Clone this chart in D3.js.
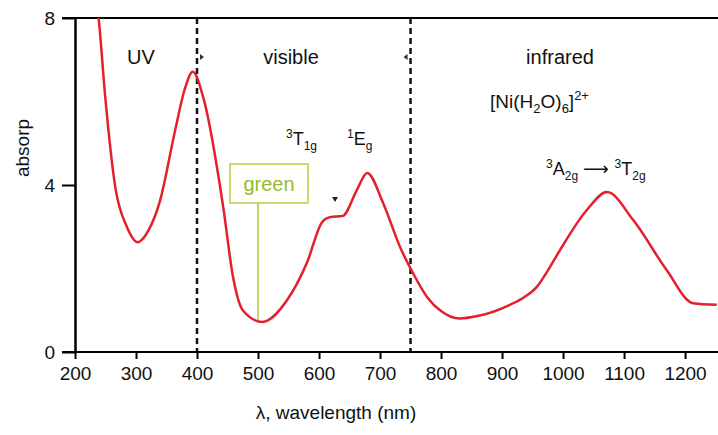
<!DOCTYPE html>
<html>
<head>
<meta charset="utf-8">
<script src="https://cdn.jsdelivr.net/npm/d3@7"></script>
<style>
  body { margin: 0; background: #fff; }
  svg { display: block; font-family: "Liberation Sans", Arial, sans-serif; }
</style>
</head>
<body>
<svg id="chart" width="718" height="435"></svg>
<script>
// spectrum of [Ni(H2O)6]2+
var wavelength = [235, 239, 249, 266, 285, 303, 320, 339, 364, 380, 393, 410, 443, 459, 475, 507, 548, 580, 605, 618, 639, 662, 679, 705, 733, 754, 777, 800, 830, 860, 913, 935, 957, 975, 995, 1039, 1072, 1115, 1170, 1213, 1252];
var absorbance = [8.4, 7.95, 6.2, 3.95, 3.0, 2.63, 2.9, 3.6, 5.3, 6.3, 6.71, 6.11, 3.47, 1.8, 1.0, 0.72, 1.25, 2.13, 3.11, 3.23, 3.26, 3.88, 4.29, 3.57, 2.51, 1.89, 1.32, 0.98, 0.8, 0.86, 1.13, 1.3, 1.56, 1.95, 2.44, 3.4, 3.83, 3.16, 1.96, 1.17, 1.13];

var xTicks = [200, 300, 400, 500, 600, 700, 800, 900, 1000, 1100, 1200];
var yTicks = [0, 4, 8];
var regionBounds = [400, 750];
var greenWavelength = 500;

var svg = d3.select('#chart');
var font = '"Liberation Sans", Arial, sans-serif';

var x = d3.scaleLinear().domain([200, 1254]).range([75, 718]);
var y = d3.scaleLinear().domain([0, 8]).range([352, 18]);

// clip for the curve
svg.append('clipPath').attr('id', 'plot')
    .append('rect').attr('x', 75).attr('y', 18).attr('width', 643).attr('height', 334);

// top frame line
svg.append('line')
    .attr('x1', 62).attr('x2', 718).attr('y1', y(8)).attr('y2', y(8))
    .attr('stroke', '#000').attr('stroke-width', 2);

// region boundaries
svg.selectAll('.bound')
    .data(regionBounds)
    .enter().append('line')
    .attr('x1', function(d) { return x(d); })
    .attr('x2', function(d) { return x(d); })
    .attr('y1', y(8)).attr('y2', y(0))
    .attr('stroke', '#111').attr('stroke-width', 2.5)
    .attr('stroke-dasharray', '6,4');

// tiny arrow marks next to the boundaries
svg.append('path')
    .attr('d', 'M' + (x(400) + 3) + ',54 l4,3 l-4,3 z').attr('fill', '#333');
svg.append('path')
    .attr('d', 'M' + (x(750) - 3) + ',54 l-4,3 l4,3 z').attr('fill', '#333');

// green marker
var gx = x(greenWavelength);
svg.append('line')
    .attr('x1', gx).attr('x2', gx).attr('y1', 203).attr('y2', y(0.75))
    .attr('stroke', '#a9c73a').attr('stroke-width', 1.5);
svg.append('rect')
    .attr('x', 230).attr('y', 164).attr('width', 78).attr('height', 39)
    .attr('fill', '#fff').attr('stroke', '#b5d040').attr('stroke-width', 1.5);
svg.append('text')
    .attr('x', 269).attr('y', 191).attr('text-anchor', 'middle')
    .attr('font-size', 20).attr('fill', '#93bb2e')
    .text('green');

// spectrum line
var line = d3.line()
    .x(function(d, i) { return x(wavelength[i]); })
    .y(function(d) { return y(d); })
    .curve(d3.curveMonotoneX);

svg.append('path')
    .datum(absorbance)
    .attr('clip-path', 'url(#plot)')
    .attr('fill', 'none')
    .attr('stroke', '#e3202c')
    .attr('stroke-width', 2.5)
    .attr('d', line);

// axes
svg.append('g')
    .attr('transform', 'translate(0,' + y(0) + ')')
    .call(d3.axisBottom(x).tickValues(xTicks).tickFormat(d3.format('d')).tickSize(7).tickSizeOuter(0).tickPadding(8))
    .call(function(g) {
        g.select('.domain').attr('stroke-width', 2).attr('d', 'M62,0H718');
        g.selectAll('.tick line').attr('stroke-width', 2);
        g.selectAll('.tick text').attr('font-size', 19).attr('font-family', font).attr('fill', '#111');
    });

svg.append('g')
    .attr('transform', 'translate(' + x(200) + ',0)')
    .call(d3.axisLeft(y).tickValues(yTicks).tickSize(13).tickSizeOuter(0).tickPadding(7))
    .call(function(g) {
        g.select('.domain').attr('stroke-width', 2.5);
        g.selectAll('.tick line').attr('stroke-width', 2);
        g.selectAll('.tick text').attr('font-size', 19).attr('font-family', font).attr('fill', '#111');
    });

// axis titles
svg.append('text')
    .attr('x', 336).attr('y', 419).attr('text-anchor', 'middle')
    .attr('font-size', 19).attr('fill', '#111')
    .text('λ, wavelength (nm)');
svg.append('text')
    .attr('transform', 'translate(29,148) rotate(-90)')
    .attr('text-anchor', 'middle')
    .attr('font-size', 19).attr('fill', '#111')
    .text('absorp');

// region labels
function label(tx, ty, str, size) {
    return svg.append('text')
        .attr('x', tx).attr('y', ty).attr('text-anchor', 'middle')
        .attr('font-size', size || 20).attr('fill', '#111')
        .text(str);
}
label(141, 64, 'UV');
label(291, 64, 'visible');
label(560, 64, 'infrared');

var ni = svg.append('text')
    .attr('x', 490).attr('y', 108)
    .attr('font-size', 19).attr('fill', '#111');
ni.append('tspan').text('[Ni(H');
ni.append('tspan').attr('font-size', 13).attr('dy', 5).text('2');
ni.append('tspan').attr('dy', -5).text('O)');
ni.append('tspan').attr('font-size', 13).attr('dy', 5).text('6');
ni.append('tspan').attr('dy', -5).text(']');
ni.append('tspan').attr('font-size', 13).attr('dy', -8).text('2+');

// term symbols
function term(t, sup, main, sub) {
    t.append('tspan').attr('font-size', 12).attr('dy', -7).text(sup);
    t.append('tspan').attr('dy', 7).text(main);
    t.append('tspan').attr('font-size', 12).attr('dy', 5).text(sub);
    t.append('tspan').attr('dy', -5).text(' ');
}
var t1 = svg.append('text').attr('x', 286).attr('y', 145).attr('font-size', 18).attr('fill', '#111');
term(t1, '3', 'T', '1g');
var t2 = svg.append('text').attr('x', 347).attr('y', 145).attr('font-size', 18).attr('fill', '#111');
term(t2, '1', 'E', 'g');

var t3 = svg.append('text').attr('x', 546).attr('y', 175).attr('font-size', 18).attr('fill', '#111');
term(t3, '3', 'A', '2g');
t3.append('tspan').attr('font-family', '"DejaVu Sans", sans-serif').text('⟶ ');
term(t3, '3', 'T', '2g');

// small arrow pointing at the shoulder
svg.append('path')
    .attr('d', 'M332,197 l6,0 l-3,5 z').attr('fill', '#222');
</script>
</body>
</html>
